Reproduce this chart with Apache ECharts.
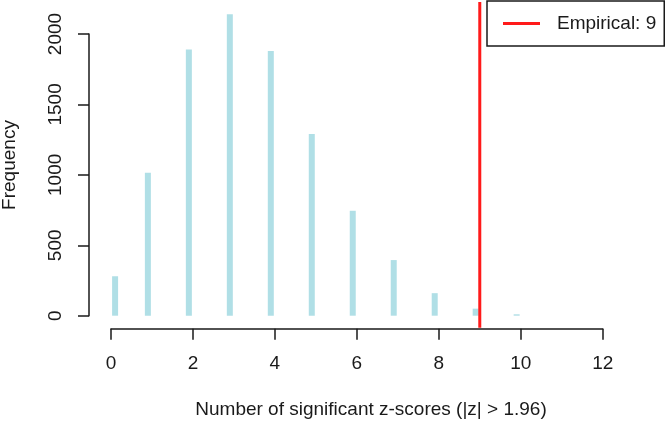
<!DOCTYPE html>
<html>
<head>
<meta charset="utf-8">
<script src="https://cdn.jsdelivr.net/npm/echarts@6/dist/echarts.min.js"></script>
<style>
  html, body { margin: 0; padding: 0; background: #fff; }
  #main { width: 666px; height: 422px; }
</style>
</head>
<body>
<div id="main"></div>
<script>
// histogram bins (0.2 wide), drawn at bin centres
const binCenters = [0.1, 0.9, 1.9, 2.9, 3.9, 4.9, 5.9, 6.9, 7.9, 8.9, 9.9]
const frequencies = [280, 1015, 1890, 2140, 1880, 1290, 745, 395, 160, 50, 10]
const empirical = 9
const empiricalLine = [-86, 2228] // plot region bottom / top, in frequency units
const xLabel = 'Number of significant z-scores (|z| > 1.96)'
const yLabel = 'Frequency'

const FONT = 'Liberation Sans, Arial, sans-serif'
const INK = '#1a1a1a'

const chart = echarts.init(document.getElementById('main'))

const option = {
  animation: false,
  backgroundColor: '#fff',
  grid: { left: 111, right: 63.3, top: 34, bottom: 106.3 },
  xAxis: {
    type: 'value',
    min: 0,
    max: 12,
    interval: 2,
    offset: 13,
    splitLine: { show: false },
    axisLine: { show: true, onZero: false, lineStyle: { color: INK, width: 1.5 } },
    axisTick: { show: true, length: 11, lineStyle: { color: INK, width: 1.5 } },
    axisLabel: { color: INK, fontFamily: FONT, fontSize: 19, margin: 26 },
  },
  yAxis: {
    type: 'value',
    min: 0,
    max: 2000,
    interval: 500,
    offset: 22,
    splitLine: { show: false },
    axisLine: { show: true, onZero: false, lineStyle: { color: INK, width: 1.5 } },
    axisTick: { show: true, length: 11, lineStyle: { color: INK, width: 1.5 } },
    axisLabel: {
      color: INK, fontFamily: FONT, fontSize: 19, margin: 24, rotate: 90,
      formatter: v => String(v),
    },
  },
  legend: {
    data: ['Empirical: ' + empirical],
    left: 487,
    top: 1,
    orient: 'vertical',
    icon: 'rect',
    itemWidth: 37,
    itemHeight: 3,
    padding: [13, 8, 13, 16],
    borderColor: INK,
    borderWidth: 1.5,
    borderRadius: 0,
    textStyle: { color: INK, fontFamily: FONT, fontSize: 19, padding: [0, 0, 0, 12] },
  },
  graphic: [
    {
      type: 'text',
      x: 371, y: 410,
      style: { text: xLabel, font: '19px ' + FONT, fill: INK, textAlign: 'center', textVerticalAlign: 'middle' },
    },
    {
      type: 'text',
      x: 10, y: 165,
      rotation: Math.PI / 2,
      style: { text: yLabel, font: '19px ' + FONT, fill: INK, textAlign: 'center', textVerticalAlign: 'middle' },
    },
  ],
  series: [
    {
      type: 'bar',
      barWidth: 6,
      clip: false,
      itemStyle: { color: '#b0dfe6' },
      data: binCenters.map((x, i) => [x, frequencies[i]]),
    },
    {
      name: 'Empirical: ' + empirical,
      type: 'line',
      clip: false,
      showSymbol: false,
      symbol: 'none',
      lineStyle: { color: '#ff1a1a', width: 3 },
      itemStyle: { color: '#ff1a1a' },
      data: empiricalLine.map(y => [empirical, y]),
    },
  ],
}
option && chart.setOption(option)
</script>
</body>
</html>
